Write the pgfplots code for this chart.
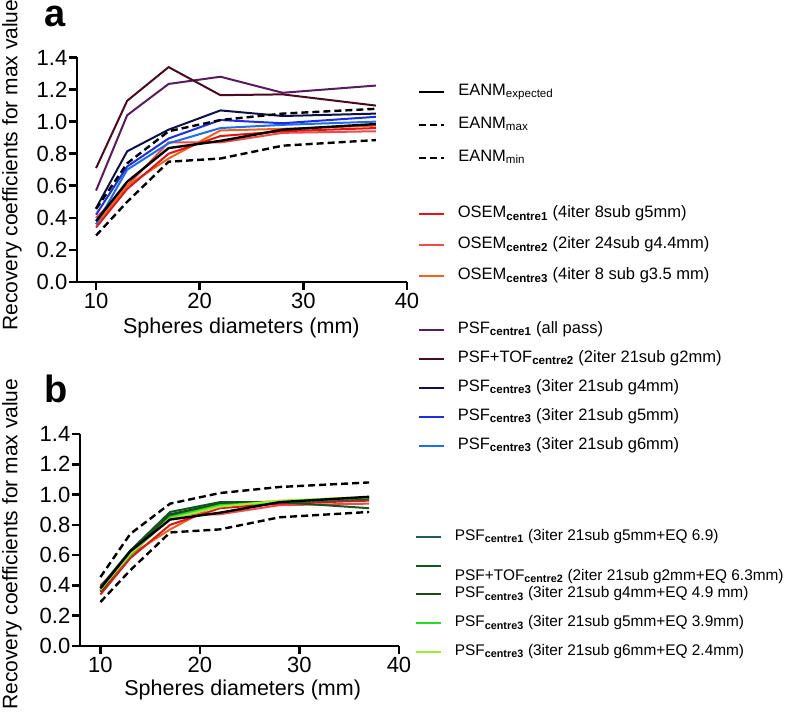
\documentclass[border=0pt]{standalone}
\usepackage{fontspec}
\setmainfont{Liberation Sans}
\usepackage{pgfplots}
\pgfplotsset{compat=1.18}

\definecolor{cPurple}{HTML}{5A1A60}
\definecolor{cMaroon}{HTML}{4A0A22}
\definecolor{cNavy}{HTML}{0C1248}
\definecolor{cBlue}{HTML}{1A2EE6}
\definecolor{cLBlue}{HTML}{1A6EF0}
\definecolor{cRed1}{HTML}{E41414}
\definecolor{cRed2}{HTML}{F04A4A}
\definecolor{cOrange}{HTML}{F2601A}
\definecolor{cTeal}{HTML}{1E5E62}
\definecolor{cDGreen}{HTML}{0E5A1E}
\definecolor{cDDGreen}{HTML}{1E4A16}
\definecolor{cBGreen}{HTML}{22DD22}
\definecolor{cYGreen}{HTML}{9AEE36}

\pgfplotsset{
  legend image code/.code={\draw[#1] (0pt,0pt) -- (25pt,0pt);},
  prism/.style={
    scale only axis, axis lines=left,
    axis line style={-, line width=2.6pt},
    tick align=outside, major tick length=8pt,
    tick style={line width=2.6pt, black},
    xtick={10,20,30,40}, xmax=40,
    ytick={0,0.2,0.4,0.6,0.8,1.0,1.2,1.4}, ymin=0, ymax=1.4,
    yticklabel style={inner sep=1.5pt, /pgf/number format/.cd, fixed, fixed zerofill, precision=1},
    /pgf/number format/assume math mode=true,
    tick label style={font=\fontsize{22}{26}\selectfont},
    xlabel style={font=\fontsize{21.5}{25}\selectfont},
    ylabel style={font=\fontsize{21}{25}\selectfont},
    clip=false,
    xlabel={Spheres diameters (mm)},
    ylabel={Recovery coefficients for max value},
  },
  posA/.style={at={(77pt,432pt)}, anchor=south west, width=330pt, height=224.5pt, xmin=8.16, xmax=40, ymin=0, ymax=1.4, scale only axis},
  posB/.style={at={(80pt,68pt)}, anchor=south west, width=319pt, height=212pt, xmin=7.95, xmax=40, ymin=0, ymax=1.4, scale only axis},
  dl/.style={line width=2pt},
  dash/.style={line width=2.4pt, black, dash pattern=on 7pt off 4pt},
  legbase/.style={legend cell align=left, legend style={draw=none, fill=none, inner sep=0pt, outer sep=0pt, column sep=13pt, font=\fontsize{16.5}{20}\selectfont, nodes={inner sep=0pt, text height=12pt, text depth=5pt}}},
}

\pgfplotstableread{
x    exp   emax  emin  os1   os2   os3   psf1  psftof n4    n5    n6
10   0.38  0.455 0.29  0.34  0.40  0.36  0.57  0.71   0.46  0.42  0.36
13   0.625 0.74  0.50  0.58  0.60  0.60  1.04  1.13   0.815 0.72  0.70
17   0.835 0.94  0.75  0.80  0.87  0.77  1.235 1.34   0.95  0.895 0.865
22   0.88  1.01  0.77  0.91  0.87  0.945 1.28  1.165  1.07  1.01  0.96
28   0.95  1.05  0.85  0.94  0.93  0.955 1.18  1.17   1.035 0.99  0.98
37   0.985 1.08  0.885 0.96  0.94  0.975 1.225 1.10   1.05  1.03  1.00
}\dataA

\pgfplotstableread{
x    g1    g2    g3    g4    g5
10   0.37  0.39  0.36  0.38  0.37
13   0.62  0.63  0.61  0.60  0.61
17   0.86  0.885 0.87  0.85  0.84
22   0.93  0.95  0.94  0.93  0.92
28   0.95  0.95  0.95  0.95  0.96
37   0.97  0.91  0.975 0.98  0.985
}\dataB

\begin{document}
\begin{tikzpicture}[x=1pt,y=1pt]
\useasboundingbox (0,0) rectangle (788,714);

% ---------------- panel a
\begin{axis}[prism, posA,
  xlabel style={at={(axis description cs:0.498,-0.205)}, anchor=center},
  ylabel style={at={(axis description cs:-0.197,0.52)}, anchor=center}]
\addplot[dl, cRed2] table[x=x,y=os2] {\dataA};
\addplot[dl, cOrange] table[x=x,y=os3] {\dataA};
\addplot[dl, cRed1] table[x=x,y=os1] {\dataA};
\addplot[dl, cLBlue] table[x=x,y=n6] {\dataA};
\addplot[dl, cBlue] table[x=x,y=n5] {\dataA};
\addplot[dl, cNavy] table[x=x,y=n4] {\dataA};
\addplot[dl, cPurple] table[x=x,y=psf1] {\dataA};
\addplot[dl, cMaroon] table[x=x,y=psftof] {\dataA};
\addplot[dash] table[x=x,y=emax] {\dataA};
\addplot[dash] table[x=x,y=emin] {\dataA};
\addplot[line width=2.4pt, black] table[x=x,y=exp] {\dataA};
\end{axis}

% legend group: EANM
\begin{axis}[posA, hide axis, legbase,
  legend style={at={(axis description cs:1.033,0.885)}, anchor=north west, row sep=16pt}]
\addplot[draw=none, forget plot] coordinates {(10,0)};
\addlegendimage{line width=2.4pt, black}
\addlegendentry{EANM\textsubscript{expected}}
\addlegendimage{dash}
\addlegendentry{EANM\textsubscript{max}}
\addlegendimage{dash}
\addlegendentry{EANM\textsubscript{min}}
\end{axis}

% legend group: OSEM
\begin{axis}[posA, hide axis, legbase,
  legend style={at={(axis description cs:1.033,0.339)}, anchor=north west, row sep=14pt}]
\addplot[draw=none, forget plot] coordinates {(10,0)};
\addlegendimage{dl, cRed1}
\addlegendentry{OSEM\textsubscript{\bfseries centre1} (4iter 8sub g5mm)}
\addlegendimage{dl, cRed2}
\addlegendentry{OSEM\textsubscript{\bfseries centre2} (2iter 24sub g4.4mm)}
\addlegendimage{dl, cOrange}
\addlegendentry{OSEM\textsubscript{\bfseries centre3} (4iter 8 sub g3.5 mm)}
\end{axis}

% legend group: PSF
\begin{axis}[posA, hide axis, legbase,
  legend style={at={(axis description cs:1.033,-0.174)}, anchor=north west, row sep=12pt}]
\addplot[draw=none, forget plot] coordinates {(10,0)};
\addlegendimage{dl, cPurple}
\addlegendentry{PSF\textsubscript{\bfseries centre1} (all pass)}
\addlegendimage{dl, cMaroon}
\addlegendentry{PSF+TOF\textsubscript{\bfseries centre2} (2iter 21sub g2mm)}
\addlegendimage{dl, cNavy}
\addlegendentry{PSF\textsubscript{\bfseries centre3} (3iter 21sub g4mm)}
\addlegendimage{dl, cBlue}
\addlegendentry{PSF\textsubscript{\bfseries centre3} (3iter 21sub g5mm)}
\addlegendimage{dl, cLBlue}
\addlegendentry{PSF\textsubscript{\bfseries centre3} (3iter 21sub g6mm)}
\end{axis}

% ---------------- panel b
\begin{axis}[prism, posB,
  xlabel style={at={(axis description cs:0.51,-0.207)}, anchor=center},
  ylabel style={at={(axis description cs:-0.213,0.48)}, anchor=center},
  legbase,
  legend style={at={(axis description cs:1.050,0.555)}, anchor=north west, row sep=11.75pt, font=\fontsize{15.4}{19}\selectfont}]
\addplot[dl, cRed2, forget plot] table[x=x,y=os2] {\dataA};
\addplot[dl, cOrange, forget plot] table[x=x,y=os3] {\dataA};
\addplot[dl, cRed1, forget plot] table[x=x,y=os1] {\dataA};
\addplot[dl, cTeal] table[x=x,y=g1] {\dataB};
\addlegendentry{PSF\textsubscript{\bfseries centre1} (3iter 21sub g5mm+EQ 6.9)}
\addplot[dl, cDGreen] table[x=x,y=g2] {\dataB};
\addlegendentry{\raisebox{-11pt}{PSF+TOF\textsubscript{\bfseries centre2} (2iter 21sub g2mm+EQ 6.3mm)}}
\addplot[dl, cDDGreen] table[x=x,y=g3] {\dataB};
\addlegendentry{PSF\textsubscript{\bfseries centre3} (3iter 21sub g4mm+EQ 4.9 mm)}
\addplot[dl, cBGreen] table[x=x,y=g4] {\dataB};
\addlegendentry{PSF\textsubscript{\bfseries centre3} (3iter 21sub g5mm+EQ 3.9mm)}
\addplot[dl, cYGreen] table[x=x,y=g5] {\dataB};
\addlegendentry{PSF\textsubscript{\bfseries centre3} (3iter 21sub g6mm+EQ 2.4mm)}
\addplot[dash, forget plot] table[x=x,y=emax] {\dataA};
\addplot[dash, forget plot] table[x=x,y=emin] {\dataA};
\addplot[line width=2.4pt, black, forget plot] table[x=x,y=exp] {\dataA};
\end{axis}

\node[anchor=base, inner sep=0pt, font=\fontsize{38}{40}\selectfont\bfseries] at (55,687) {a};
\node[anchor=base, inner sep=0pt, font=\fontsize{38}{40}\selectfont\bfseries] at (56,311) {b};
\end{tikzpicture}
\end{document}
